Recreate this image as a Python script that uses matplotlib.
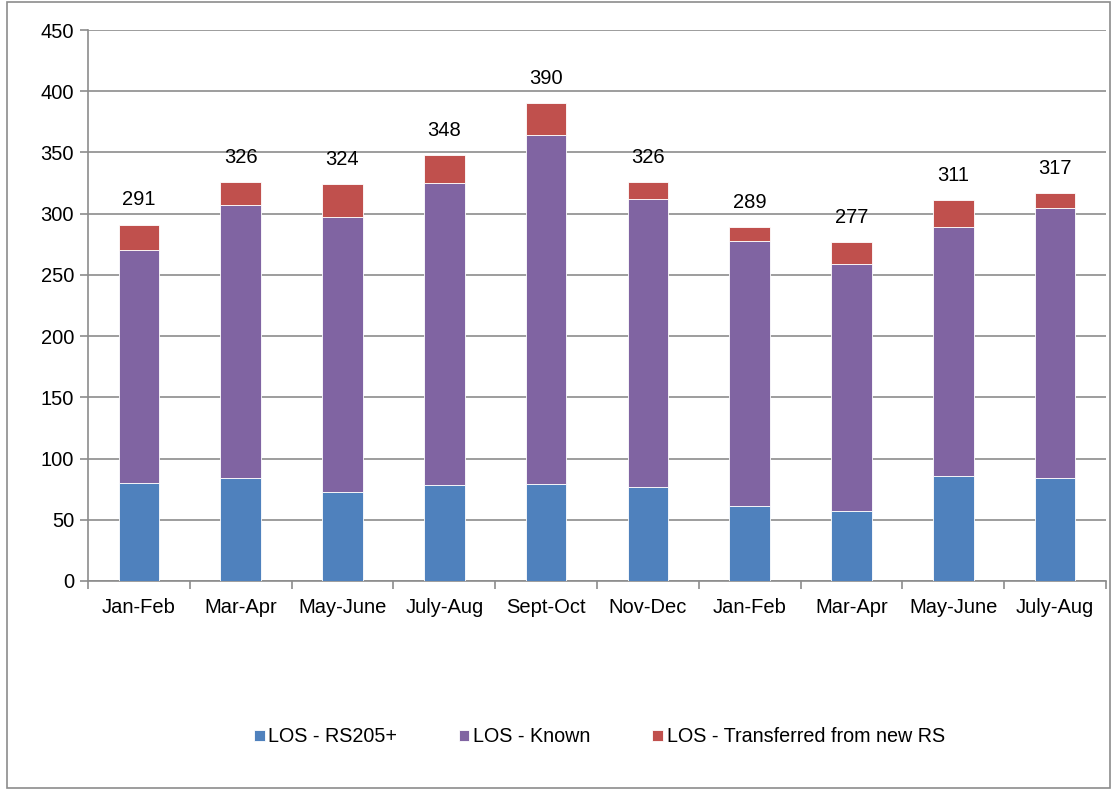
import matplotlib.pyplot as plt
import numpy as np
from matplotlib.patches import Rectangle

plt.rcParams['font.family'] = ['Liberation Sans', 'DejaVu Sans']

periods = ['Jan-Feb', 'Mar-Apr', 'May-June', 'July-Aug', 'Sept-Oct',
           'Nov-Dec', 'Jan-Feb', 'Mar-Apr', 'May-June', 'July-Aug']
rs205 = [80, 84, 73, 78, 79, 77, 61, 57, 86, 84]
known = [190, 223, 224, 247, 285, 235, 217, 202, 203, 221]
transferred = [21, 19, 27, 23, 26, 14, 11, 18, 22, 12]
series_names = ['LOS - RS205+', 'LOS - Known', 'LOS - Transferred from new RS']
colors = ['#4F81BD', '#8064A2', '#C0504D']

fig = plt.figure(figsize=(11.18, 7.92), dpi=100)
ax = fig.add_axes([88 / 1118, 1 - 581 / 792, 1018 / 1118, 551 / 792])

x = np.arange(len(periods))
bottom = np.zeros(len(periods))
for vals, name, c in zip([rs205, known, transferred], series_names, colors):
    ax.bar(x, vals, 0.4, bottom=bottom, color=c, edgecolor='white',
           linewidth=0.6, label=name, zorder=3)
    bottom = bottom + np.array(vals)

for xi, tot in zip(x, bottom):
    ax.annotate(str(int(tot)), (xi, tot), xytext=(0, 11), textcoords='offset points',
                ha='center', va='bottom', fontsize=14.5)

ax.set_xlim(-0.5, len(periods) - 0.5)
ax.set_ylim(0, 450)
ax.set_yticks(range(0, 451, 50))
ax.yaxis.grid(True, color='#8c8c8c', linewidth=1.2, zorder=0)

# category boundaries get tick marks, labels sit at centers
ax.set_xticks(np.arange(-0.5, len(periods)), minor=False)
ax.set_xticklabels([])
ax.set_xticks(x, minor=True)
ax.set_xticklabels(periods, minor=True)
ax.tick_params(axis='x', which='major', length=6, color='#8c8c8c', width=1.2)
ax.tick_params(axis='x', which='minor', length=0, labelsize=14.5, pad=12)
ax.tick_params(axis='y', length=6, color='#8c8c8c', width=1.2, labelsize=14.5, pad=4)

for s in ['top', 'right']:
    ax.spines[s].set_visible(False)
for s in ['left', 'bottom']:
    ax.spines[s].set_color('#8c8c8c')
    ax.spines[s].set_linewidth(1.2)

fig.legend(loc='center', bbox_to_anchor=(0.536, 1 - 737 / 792), ncol=3,
           frameon=False, fontsize=14.2, handlelength=0.55, handleheight=0.55,
           handletextpad=0.2, columnspacing=3.1)

fig.patches.append(Rectangle((7 / 1118, 4 / 792), 1103 / 1118, 786 / 792,
                             transform=fig.transFigure, fill=False,
                             edgecolor='#8c8c8c', linewidth=1.2))

fig.savefig('out.png', dpi=100)
